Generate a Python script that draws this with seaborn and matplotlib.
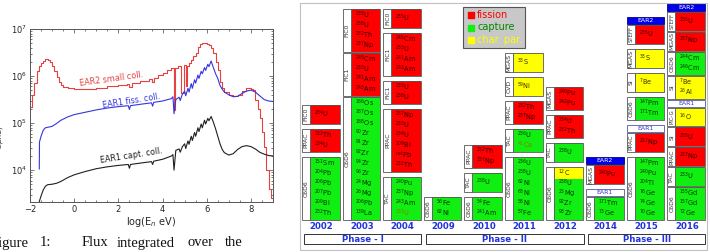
import re
import matplotlib
matplotlib.use("Agg")
import matplotlib.pyplot as plt
import matplotlib.patches as mpatches
from matplotlib.ticker import MultipleLocator, LogLocator, NullFormatter
import numpy as np
import pandas as pd
import seaborn as sns

# ---- left panel: flux curves (log10 E, log10 flux) ----
red_x = [-2.0, -1.9, -1.8, -1.7, -1.6, -1.5, -1.4, -1.3, -1.2, -1.1, -1.0, -0.9, -0.8, -0.7, -0.6, -0.5,
         -0.3, 0.0, 0.5, 1.0, 1.5, 2.0, 2.4, 2.5, 2.6, 3.0, 3.4, 3.5, 3.6, 3.8, 4.0, 4.2, 4.4, 4.5, 4.55,
         4.7, 4.85, 4.95, 5.05, 5.1, 5.2, 5.3, 5.4, 5.5, 5.6, 5.7, 5.8, 5.9, 6.0, 6.1, 6.2, 6.3, 6.4, 6.5,
         6.6, 6.7, 6.8, 7.0, 7.2, 7.4, 7.6, 7.8, 8.0, 8.1, 8.2, 8.3, 8.4, 8.5, 8.6, 8.7, 8.8, 8.9, 9.0]
red_y = [5.35, 5.6, 5.85, 6.1, 6.22, 6.28, 6.33, 6.36, 6.35, 6.3, 6.22, 6.1, 5.98, 5.88, 5.8, 5.77,
         5.74, 5.72, 5.73, 5.75, 5.78, 5.81, 5.84, 5.76, 5.86, 5.89, 5.93, 5.87, 5.95, 6.02, 6.07, 6.12,
         6.18, 5.28, 6.18, 6.22, 5.64, 6.24, 5.78, 6.22, 6.28, 6.35, 6.42, 6.5, 6.62, 6.68, 6.7, 6.7,
         6.68, 6.66, 6.6, 6.5, 6.3, 6.12, 5.88, 5.75, 5.67, 5.6, 5.57, 5.6, 5.68, 5.75, 5.73, 5.7, 5.5,
         5.3, 5.1, 4.8, 4.5, 4.0, 3.6, 3.4, 3.3]

blue_x = [-1.58, -1.57, -1.5, -1.4, -1.3, -1.2, -1.0, -0.8, -0.6, -0.3, 0.0, 0.5, 1.0, 1.5, 2.0, 2.45,
          2.5, 2.55, 3.0, 3.5, 3.55, 3.6, 4.0, 4.4, 4.47, 4.52, 4.6, 4.75, 4.8, 4.9, 5.0, 5.05, 5.15,
          5.2, 5.3, 5.35, 5.45, 5.5, 5.6, 5.65, 5.75, 5.8, 5.9, 5.95, 6.05, 6.1, 6.2, 6.3, 6.4, 6.5,
          6.6, 6.7, 6.8, 7.0, 7.2, 7.4, 7.6, 7.8, 8.0, 8.2, 8.4, 8.6, 8.8, 9.0]
blue_y = [4.02, 4.6, 4.72, 4.85, 4.9, 4.91, 4.93, 4.99, 5.06, 5.13, 5.18, 5.23, 5.28, 5.32, 5.35, 5.37,
          5.29, 5.37, 5.4, 5.43, 5.36, 5.44, 5.47, 5.52, 5.56, 5.2, 5.5, 5.55, 5.48, 5.62, 5.68, 5.58,
          5.74, 5.66, 5.84, 5.74, 5.92, 5.85, 6.02, 5.95, 6.1, 6.05, 6.18, 6.12, 6.25, 6.2, 6.32, 6.18,
          6.05, 5.95, 5.8, 5.72, 5.66, 5.6, 5.56, 5.57, 5.63, 5.68, 5.7, 5.66, 5.58, 5.5, 5.47, 5.46]

black_x = [-1.58, -1.5, -1.4, -1.3, -1.2, -1.0, -0.8, -0.6, -0.3, 0.0, 0.5, 1.0, 1.5, 2.0, 2.45, 2.5,
           2.55, 3.0, 3.5, 3.55, 3.6, 4.0, 4.4, 4.47, 4.52, 4.6, 4.75, 4.8, 4.9, 5.0, 5.05, 5.15, 5.2,
           5.3, 5.35, 5.45, 5.5, 5.6, 5.65, 5.75, 5.8, 5.9, 5.95, 6.05, 6.1, 6.2, 6.3, 6.4, 6.5, 6.6,
           6.7, 6.8, 7.0, 7.2, 7.4, 7.6, 7.8, 8.0, 8.2, 8.4, 8.6, 8.8, 9.0]
black_y = [3.33, 3.45, 3.58, 3.66, 3.69, 3.7, 3.72, 3.76, 3.84, 3.9, 3.97, 4.03, 4.07, 4.1, 4.12, 4.04,
           4.12, 4.15, 4.18, 4.12, 4.19, 4.23, 4.3, 4.33, 4.0, 4.42, 4.45, 4.38, 4.5, 4.56, 4.46, 4.62,
           4.55, 4.72, 4.63, 4.8, 4.72, 4.9, 4.82, 4.98, 4.9, 5.06, 4.98, 5.1, 5.05, 5.14, 5.02, 4.88,
           4.72, 4.56, 4.44, 4.37, 4.32, 4.35, 4.44, 4.5, 4.52, 4.5, 4.45, 4.38, 4.34, 4.31, 4.3]

# ---- right panel: n_TOF measurement campaigns ----
years = ["2002", "2003", "2004", "2009", "2010", "2011", "2012", "2014", "2015", "2016"]
phases = ["Phase - I", "Phase - II", "Phase - III"]
phase_span = [("2002", "2004"), ("2009", "2012"), ("2014", "2016")]
reactions = ["fission", "capture", "char. par."]

# columns listed bottom -> top: (detector, reaction code per isotope, isotopes)
# f = fission, c = capture, a = charged particle, b = capture+fission
m2002 = [("C6D6", "c", ["151Sm", "204Pb", "206Pb", "207Pb", "209Bi", "232Th"]),
         ("PPAC", "f", ["232Th", "234U"]),
         ("FIC0", "f", ["234U"])]
m2003 = [("C6D6", "c", ["186Os", "187Os", "188Os", "90Zr", "91Zr", "92Zr", "94Zr", "96Zr",
                        "24Mg", "26Mg", "206Pb", "139La"]),
         ("FIC1", "f", ["245Cm", "233U", "241Am", "243Am"]),
         ("FIC0", "f", ["235U", "238U", "232Th", "237Np"])]
m2004 = [("TAC", "cccb", ["240Pu", "237Np", "243Am", "233U"]),
         ("PPAC", "f", ["237Np", "233U", "234U", "209Bi", "natPb", "232Th"]),
         ("FIC1", "f", ["235U", "238U"]),
         ("FIC1", "f", ["245Cm", "233U", "241Am", "243Am"]),
         ("FIC0", "f", ["235U"])]
m2009 = [("C6D6", "c", ["56Fe", "62Ni"])]
m2010 = [("C6D6", "c", ["54Fe", "241Am"]),
         ("TAC", "c", ["238U"]),
         ("PPAC", "f", ["232Th", "237Np"])]
m2011 = [("C6D6", "c", ["236U", "238U", "62Ni", "63Ni", "58Ni", "57Fe"]),
         ("TAC", "cb", ["236U", "41Ca"]),
         ("PPAC", "f", ["232Th", "237Np"]),
         ("CVD", "a", ["59Ni"]),
         ("MGAS", "a", ["33S"])]
m2012 = [("C6D6", "acccc", ["12C", "238U", "25Mg", "92Zr", "93Zr"]),
         ("TAC", "c", ["238U"]),
         ("PPAC", "f", ["234U", "232Th"]),
         ("MGAS", "f", ["240Pu", "242Pu"])]
m2014 = [("C6D6", "c", ["171Tm", "73Ge"]),
         ("EAR1", "", []),
         ("MGAS", "f", ["240Pu"]),
         ("EAR2", "", [])]
m2015 = [("C6D6", "c", ["147Pm", "240Pu", "204Tl", "76Ge", "74Ge", "70Ge"]),
         ("PPAC", "f", ["237Np"]),
         ("EAR1", "", []),
         ("C6D6", "c", ["147Pm", "171Tm"]),
         ("SI", "a", ["7Be"]),
         ("MGAS", "a", ["33S"]),
         ("STEFF", "f", ["235U"]),
         ("EAR2", "", [])]
m2016 = [("C6D6", "c", ["155Gd", "157Gd", "72Ge"]),
         ("TAC", "c", ["233U"]),
         ("PPAC", "f", ["237Np"]),
         ("SI", "f", ["235U"]),
         ("PIC-G", "a", ["16O"]),
         ("EAR1", "", []),
         ("SI", "a", ["7Be", "26Al"]),
         ("C6D6", "c", ["244Cm", "246Cm"]),
         ("MGAS", "f", ["237Np"]),
         ("STEFF", "f", ["235U"]),
         ("EAR2", "", [])]
campaigns = [m2002, m2003, m2004, m2009, m2010, m2011, m2012, m2014, m2015, m2016]

fill = {"f": "#ff0000", "c": "#11ee11", "a": "#ffff00", "b": "#11ee11"}
txtc = {"f": "#330000", "c": "#003300", "a": "#333300", "b": "#8a7a00"}

sns.set_style("ticks")
plt.rcParams["font.family"] = ["DejaVu Sans"]
plt.rcParams["mathtext.fontset"] = "dejavusans"

fig = plt.figure(figsize=(7.10, 2.52), dpi=100)

# full-figure axes in pixel coordinates for the campaign table
tb = fig.add_axes([0, 0, 1, 1])
tb.set_xlim(0, 710)
tb.set_ylim(252, 0)
tb.axis("off")


def iso_label(s):
    m = re.match(r"(nat|\d+)(.*)", s)
    sup = m.group(1)
    if sup == "nat":
        sup = r"\mathrm{nat}"
    return r"$^{%s}$%s" % (sup, m.group(2))


tb.add_patch(mpatches.Rectangle((300, 3), 407, 247, fill=False, ec="#c0c0c0", lw=0.8))

x0 = 302
step = 40.6
lab_w = 8
box_w = 29.5
base = 220
avail = 216

for i, col in enumerate(campaigns):
    cx = x0 + i * step
    # heights and gaps, bottom -> top
    hs = []
    gaps = []
    for k, (det, rc, isos) in enumerate(col):
        if rc == "":
            hs.append(7)
        else:
            hs.append(10 * len(isos) + 3 if len(isos) > 1 else 19)
        if k + 1 < len(col):
            gaps.append(1 if col[k + 1][1] == "" else 5)
    # squeeze gaps first, then box heights, if the column is too tall
    over = sum(hs) + sum(gaps) - avail
    if over > 0:
        gaps = [1 if g > 1 else g for g in gaps]
    sc = min(1.0, (avail - sum(gaps)) / sum(hs))
    y = base
    for k, (det, rc, isos) in enumerate(col):
        h = hs[k] * sc
        top = y - h
        if rc == "":
            if det == "EAR2":
                tb.add_patch(mpatches.Rectangle((cx, top), lab_w + box_w, h, fc="#0000ee",
                                                ec="#000088", lw=0.6))
                tb.text(cx + (lab_w + box_w) / 2, top + h / 2, det, color="white",
                        fontsize=4.4, ha="center", va="center")
            else:
                tb.add_patch(mpatches.Rectangle((cx, top), lab_w + box_w, h, fc="white",
                                                ec="#5555aa", lw=0.6))
                tb.text(cx + (lab_w + box_w) / 2, top + h / 2, det, color="#3333cc",
                        fontsize=4.4, ha="center", va="center")
        else:
            codes = rc if len(rc) == len(isos) else rc * len(isos)
            n = len(isos)
            lh = min(10.0, (h - 3) / n) if n > 1 else h
            seg_top = top + (h - lh * n) / 2 if n > 1 else top
            # coloured background segments, one per run of equal reaction type
            j = 0
            while j < n:
                kcode = "c" if codes[j] == "b" else codes[j]
                jj = j
                while jj + 1 < n and ("c" if codes[jj + 1] == "b" else codes[jj + 1]) == kcode:
                    jj += 1
                s0 = top if j == 0 else seg_top + j * lh
                s1 = top + h if jj == n - 1 else seg_top + (jj + 1) * lh
                tb.add_patch(mpatches.Rectangle((cx + lab_w, s0), box_w, s1 - s0,
                                                fc=fill[kcode], ec="none"))
                j = jj + 1
            tb.add_patch(mpatches.Rectangle((cx + lab_w, top), box_w, h, fill=False,
                                            ec="#555555", lw=0.6))
            tb.add_patch(mpatches.Rectangle((cx, top), lab_w, h, fc="white",
                                            ec="#555555", lw=0.6))
            tb.text(cx + lab_w / 2 + 0.3, top + h / 2, det, rotation=90,
                    fontsize=4.4 if len(det) < 5 else 3.9,
                    color="#333333", ha="center", va="center")
            for j, iso in enumerate(isos):
                ty = seg_top + (j + 0.5) * lh if n > 1 else top + h / 2
                tb.text(cx + lab_w + 4, ty, iso_label(iso), fontsize=4.7,
                        color=txtc[codes[j]], ha="left", va="center")
        y = top - (gaps[k] if k < len(gaps) else 0)
    tb.text(cx + 19.5, 226.5, years[i], color="#2233dd", fontsize=6.2,
            fontweight="bold", ha="center", va="center")

for p, (ya, yb) in zip(phases, phase_span):
    xa = x0 + years.index(ya) * step + 2
    xb = x0 + years.index(yb) * step + 38
    tb.add_patch(mpatches.Rectangle((xa, 234), xb - xa, 10, fc="white", ec="#333333", lw=0.7))
    tb.text((xa + xb) / 2, 239.3, p, color="#2233dd", fontsize=6.2, fontweight="bold",
            ha="center", va="center")

# legend
tb.add_patch(mpatches.Rectangle((463, 7), 62, 41, fc="#c8c8c8", ec="#555555", lw=0.8))
leg_col = ["#ff0000", "#008800", "#ffff00"]
for j, r in enumerate(reactions):
    yy = 15 + j * 12.5
    tb.scatter([471], [yy], marker="s", s=14, color=fill["fca"[j]], zorder=5)
    tb.text(477, yy, r, color=leg_col[j], fontsize=7, ha="left", va="center")

# caption fragment under the left panel
cap_words = ["Figure", "1:", "Flux", "integrated", "over", "the"]
cap_x = [-9, 40, 82, 117, 188, 225]
for w, xx in zip(cap_words, cap_x):
    tb.text(xx, 243, w, fontsize=10.5, family="Liberation Serif", ha="left", va="center",
            color="#111111")

# ---- flux plot ----
ax = fig.add_axes([30 / 710, 1 - 202 / 252, 243 / 710, 173 / 252])
curves = [(red_x, red_y, "#e84040", "steps-post"),
          (blue_x, blue_y, "#3535e0", "default"),
          (black_x, black_y, "#202020", "default")]
for cx_, cy_, col, ds in curves:
    df = pd.DataFrame({"logE": cx_, "flux": np.power(10.0, cy_)})
    sns.lineplot(data=df, x="logE", y="flux", ax=ax, color=col, lw=0.8,
                 drawstyle=ds, errorbar=None, sort=False)

ax.set_yscale("log")
ax.set_xlim(-2, 9)
ax.set_ylim(2.1e3, 1e7)
ax.xaxis.set_major_locator(MultipleLocator(2))
ax.xaxis.set_minor_locator(MultipleLocator(0.5))
ax.yaxis.set_major_locator(LogLocator(base=10, numticks=10))
ax.yaxis.set_minor_locator(LogLocator(base=10, subs=np.arange(2, 10), numticks=20))
ax.yaxis.set_minor_formatter(NullFormatter())
ax.tick_params(which="both", direction="in", top=True, right=True, labelsize=6,
               color="#444444", width=0.5, pad=2)
ax.tick_params(which="major", length=3)
ax.tick_params(which="minor", length=1.5)
for s in ax.spines.values():
    s.set_color("#555555")
    s.set_linewidth(0.7)
ax.set_xlabel(r"log(E$_n$ eV)", fontsize=7, labelpad=1)
ax.set_ylabel(r"$\frac{dn}{d(LnE)}$ n/ 10$^7$ p", fontsize=7)
ax.yaxis.set_label_coords(-0.1, 0.5)

ax.text(1.7, 10 ** 5.93, "EAR2 small coll.", color="#e84040", fontsize=5.8, rotation=8,
        ha="center", va="center")
ax.text(2.6, 10 ** 5.47, "EAR1 fiss. coll.", color="#3535e0", fontsize=5.8, rotation=9,
        ha="center", va="center")
ax.text(2.6, 10 ** 4.3, "EAR1 capt. coll.", color="#202020", fontsize=5.8, rotation=9,
        ha="center", va="center")

fig.savefig("out.png", dpi=100)
